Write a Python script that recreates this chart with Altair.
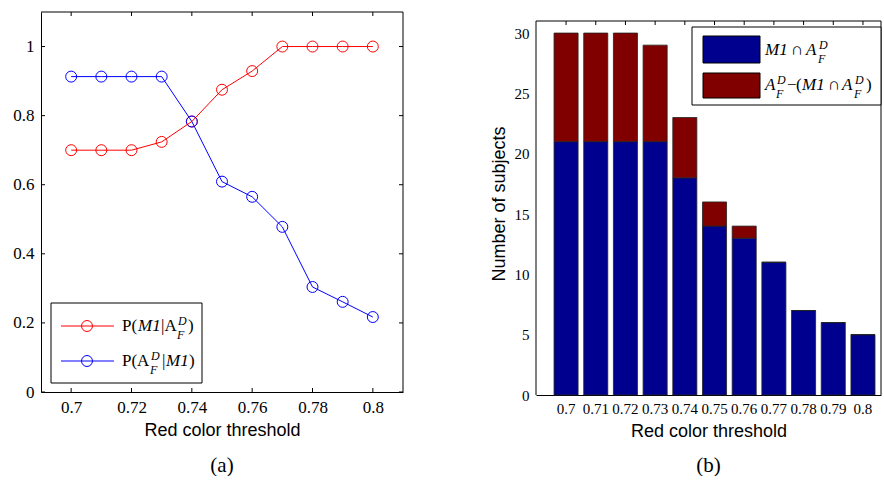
import altair as alt
import pandas as pd

# ---- data ----
thresholds = [0.70, 0.71, 0.72, 0.73, 0.74, 0.75, 0.76, 0.77, 0.78, 0.79, 0.80]
threshold_labels = ["0.7", "0.71", "0.72", "0.73", "0.74", "0.75", "0.76", "0.77", "0.78", "0.79", "0.8"]
p_m1_given_a = [0.700, 0.700, 0.700, 0.724, 0.783, 0.875, 0.929, 1.000, 1.000, 1.000, 1.000]
p_a_given_m1 = [0.913, 0.913, 0.913, 0.913, 0.783, 0.609, 0.565, 0.478, 0.304, 0.261, 0.217]
n_intersection = [21, 21, 21, 21, 18, 14, 13, 11, 7, 6, 5]
n_afd_total = [30, 30, 30, 29, 23, 16, 14, 11, 7, 6, 5]

x_ticks_a = [0.70, 0.72, 0.74, 0.76, 0.78, 0.80]
y_ticks_a = [0, 0.2, 0.4, 0.6, 0.8, 1.0]
y_ticks_b = [0, 5, 10, 15, 20, 25, 30]

RED = "#ff0000"
BLUE = "#0000ff"
DARKBLUE = "#00008f"
DARKRED = "#800000"
SERIF = "Liberation Serif"
SANS = "Liberation Sans"

WA, HA = 362, 380
WB, HB = 345, 383      # right panel: visible box starts 9px below the top
TOPB = 9
YMAX_B = 31 * HB / (HB - TOPB)

df_a = pd.DataFrame({"t": thresholds, "p1": p_m1_given_a, "p2": p_a_given_m1})
df_b = pd.DataFrame({"lab": threshold_labels, "both": n_intersection, "total": n_afd_total})
df_xt = pd.DataFrame({"v": x_ticks_a})
df_yt = pd.DataFrame({"v": y_ticks_a})
one = pd.DataFrame({"k": [0]})

sx_a = alt.Scale(domain=[0.69, 0.81], nice=False, zero=False)
sy_a = alt.Scale(domain=[0, 1.1], nice=False)

xa = alt.X("t:Q", scale=sx_a, axis=alt.Axis(values=x_ticks_a, format="~g", title="Red color threshold"))
ya = alt.Y("p1:Q", scale=sy_a, axis=alt.Axis(values=y_ticks_a, format="~g", title=None))
ya2 = alt.Y("p2:Q", scale=sy_a)

line_red = alt.Chart(df_a).mark_line(color=RED, strokeWidth=1).encode(x=xa, y=ya)
pts_red = alt.Chart(df_a).mark_point(shape="circle", filled=False, color=RED, size=120,
                                     strokeWidth=1, opacity=1).encode(x=xa, y=ya)
line_blue = alt.Chart(df_a).mark_line(color=BLUE, strokeWidth=1).encode(x=xa, y=ya2)
pts_blue = alt.Chart(df_a).mark_point(shape="circle", filled=False, color=BLUE, size=120,
                                      strokeWidth=1, opacity=1).encode(x=xa, y=ya2)


def rule(x, x2, y, y2, color="black"):
    return alt.Chart(one).mark_rule(color=color, strokeWidth=1).encode(
        x=alt.value(x), x2=alt.value(x2), y=alt.value(y), y2=alt.value(y2))


# inward ticks (matlab style) + box
xt = alt.X("v:Q", scale=sx_a)
yt = alt.Y("v:Q", scale=sy_a)
ticks_a = [
    alt.Chart(df_xt).mark_rule(color="black", strokeWidth=1).encode(x=xt, y=alt.value(HA - 4), y2=alt.value(HA)),
    alt.Chart(df_xt).mark_rule(color="black", strokeWidth=1).encode(x=xt, y=alt.value(0), y2=alt.value(4)),
    alt.Chart(df_yt).mark_rule(color="black", strokeWidth=1).encode(y=yt, x=alt.value(0), x2=alt.value(4)),
    alt.Chart(df_yt).mark_rule(color="black", strokeWidth=1).encode(y=yt, x=alt.value(WA - 4), x2=alt.value(WA)),
    rule(0, WA, 0, 0), rule(WA, WA, 0, HA),
]


def txt(x, y, s, size=17, italic=False, font=SERIF, align="left", baseline="alphabetic"):
    return alt.Chart(one).mark_text(
        text=s, font=font, fontSize=size, fontStyle="italic" if italic else "normal",
        align=align, baseline=baseline, color="black"
    ).encode(x=alt.value(x), y=alt.value(y))


def pt(x, y, color):
    return alt.Chart(one).mark_point(shape="circle", filled=False, color=color, size=120,
                                     strokeWidth=1, opacity=1).encode(x=alt.value(x), y=alt.value(y))


SUP, SUB, SS = -6, 8, 12

# legend (a)
leg_a = [
    alt.Chart(one).mark_rect(fill="white", stroke="black", strokeWidth=1).encode(
        x=alt.value(10), x2=alt.value(161), y=alt.value(291), y2=alt.value(371)),
    rule(20, 73, 314, 314, RED), pt(46, 314, RED),
    rule(20, 73, 349, 349, BLUE), pt(46, 349, BLUE),
    # P(M1|A^D_F)
    txt(81, 319, "P("), txt(97, 319, "M1", italic=True), txt(120, 319, "|A"),
    txt(137, 319 + SUP, "D", size=SS, italic=True), txt(136, 319 + SUB, "F", size=SS, italic=True),
    txt(147, 319, ")"),
    # P(A^D_F|M1)
    txt(81, 354, "P("), txt(96, 354, "A"),
    txt(110, 354 + SUP, "D", size=SS, italic=True), txt(109, 354 + SUB, "F", size=SS, italic=True),
    txt(121, 354, "|"), txt(125, 354, "M1", italic=True), txt(148, 354, ")"),
]

label_a = txt(WA / 2, 454, "(a)", size=21, align="center", baseline="middle")

chart_a = alt.layer(line_red, line_blue, pts_red, pts_blue, *ticks_a, *leg_a, label_a).properties(
    width=WA, height=HA)

# ---- chart b ----
sy_b = alt.Scale(domain=[0, YMAX_B], nice=False)
xb = alt.X("lab:N", sort=threshold_labels,
           scale=alt.Scale(paddingInner=0.19, paddingOuter=0.405, align=0.75),
           axis=alt.Axis(title="Red color threshold", labelAngle=0, labelFontSize=15,
                         ticks=False, labelPadding=6))
bars_blue = alt.Chart(df_b).mark_bar(color=DARKBLUE, stroke="#222222", strokeWidth=0.8).encode(
    x=xb, y=alt.Y("both:Q", scale=sy_b,
                  axis=alt.Axis(values=y_ticks_b, title="Number of subjects", labelFontSize=15,
                                domain=False)),
    y2=alt.value(HB))
bars_red = alt.Chart(df_b).mark_bar(color=DARKRED, stroke="#222222", strokeWidth=0.8).encode(
    x=xb, y=alt.Y("total:Q", scale=sy_b), y2="both:Q")
ticks_b = alt.Chart(df_b).mark_rule(color="black", strokeWidth=1).encode(
    x=alt.X("lab:N", sort=threshold_labels, bandPosition=0.5), y=alt.value(TOPB), y2=alt.value(TOPB + 4))
box_b = [rule(0, WB, TOPB, TOPB), rule(0, 0, TOPB, HB), rule(WB, WB, TOPB, HB)]

RB1, RB2 = 43, 78
leg_b = [
    alt.Chart(one).mark_rect(fill="white", stroke="black", strokeWidth=1).encode(
        x=alt.value(156), x2=alt.value(WB), y=alt.value(15), y2=alt.value(93)),
    alt.Chart(one).mark_rect(fill=DARKBLUE, stroke="black", strokeWidth=1).encode(
        x=alt.value(167), x2=alt.value(224), y=alt.value(24), y2=alt.value(51)),
    alt.Chart(one).mark_rect(fill=DARKRED, stroke="black", strokeWidth=1).encode(
        x=alt.value(167), x2=alt.value(224), y=alt.value(61), y2=alt.value(86)),
    # M1 ∩ A^D_F
    txt(229, RB1, "M1", italic=True), txt(255, RB1, "\u2229"), txt(270, RB1, "A", italic=True),
    txt(283, RB1 + SUP, "D", size=SS, italic=True), txt(282, RB1 + SUB, "F", size=SS, italic=True),
    # A^D_F − (M1 ∩ A^D_F)
    txt(229, RB2, "A", italic=True),
    txt(241, RB2 + SUP, "D", size=SS, italic=True), txt(240, RB2 + SUB, "F", size=SS, italic=True),
    txt(251, RB2, "\u2212"), txt(260, RB2, "("), txt(266, RB2, "M1", italic=True),
    txt(292, RB2, "\u2229"), txt(306, RB2, "A", italic=True),
    txt(319, RB2 + SUP, "D", size=SS, italic=True), txt(318, RB2 + SUB, "F", size=SS, italic=True),
    txt(330, RB2, ")"),
]

label_b = txt(WB / 2, 454, "(b)", size=21, align="center", baseline="middle")

chart_b = alt.layer(bars_blue, bars_red, ticks_b, *box_b, *leg_b, label_b).properties(width=WB, height=HB)

chart = alt.hconcat(chart_a, chart_b, spacing=86).properties(
    padding={"left": 12, "top": 11, "right": 0, "bottom": 0}
).configure_view(strokeOpacity=0).configure_axis(
    labelFont=SERIF, labelFontSize=17, labelColor="black",
    titleFont=SANS, titleFontSize=18, titleFontWeight="normal", titleColor="black",
    ticks=False, grid=False, domainColor="black", domainWidth=1, labelPadding=7, titlePadding=6
)

chart.save("out.html", embed_options={"renderer": "svg", "actions": False})
